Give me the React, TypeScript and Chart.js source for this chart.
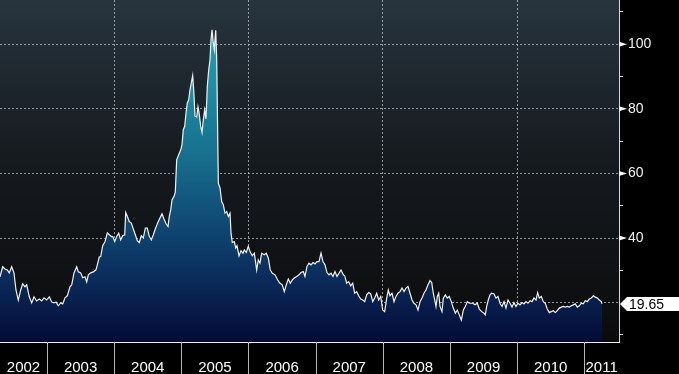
import React, { useEffect, useRef } from 'react';
import { Chart, registerables } from 'chart.js';

Chart.register(...registerables);

// decimal-year dates of each observation
const dates: number[] = [
  2002.300, 2002.340, 2002.374, 2002.409, 2002.438, 2002.474, 2002.508, 2002.538, 2002.572, 2002.608,
  2002.638, 2002.672, 2002.698, 2002.736, 2002.772, 2002.806, 2002.846, 2002.885, 2002.921, 2002.955,
  2002.995, 2003.034, 2003.070, 2003.104, 2003.134, 2003.168, 2003.204, 2003.234, 2003.268, 2003.302,
  2003.342, 2003.368, 2003.402, 2003.442, 2003.466, 2003.502, 2003.531, 2003.566, 2003.591, 2003.615,
  2003.651, 2003.689, 2003.729, 2003.749, 2003.779, 2003.799, 2003.829, 2003.863, 2003.898, 2003.927,
  2003.963, 2003.978, 2004.008, 2004.038, 2004.067, 2004.097, 2004.127, 2004.157, 2004.172, 2004.196,
  2004.225, 2004.255, 2004.285, 2004.315, 2004.344, 2004.374, 2004.404, 2004.434, 2004.464, 2004.493,
  2004.523, 2004.553, 2004.583, 2004.612, 2004.642, 2004.682, 2004.712, 2004.742, 2004.772, 2004.802,
  2004.821, 2004.842, 2004.861, 2004.891, 2004.910, 2004.931, 2004.961, 2004.991, 2005.010, 2005.029,
  2005.050, 2005.070, 2005.089, 2005.110, 2005.129, 2005.148, 2005.169, 2005.184, 2005.204, 2005.229,
  2005.248, 2005.268, 2005.288, 2005.308, 2005.327, 2005.348, 2005.367, 2005.387, 2005.408, 2005.427,
  2005.442, 2005.457, 2005.476, 2005.491, 2005.512, 2005.527, 2005.551, 2005.576, 2005.601, 2005.625,
  2005.650, 2005.676, 2005.700, 2005.725, 2005.740, 2005.759, 2005.789, 2005.810, 2005.829, 2005.859,
  2005.889, 2005.918, 2005.938, 2005.967, 2005.997, 2006.023, 2006.057, 2006.087, 2006.122, 2006.146,
  2006.171, 2006.197, 2006.235, 2006.265, 2006.295, 2006.325, 2006.355, 2006.395, 2006.435, 2006.469,
  2006.503, 2006.533, 2006.563, 2006.593, 2006.623, 2006.652, 2006.682, 2006.718, 2006.752, 2006.782,
  2006.816, 2006.841, 2006.871, 2006.901, 2006.931, 2006.961, 2006.990, 2007.020, 2007.050, 2007.080,
  2007.109, 2007.139, 2007.169, 2007.199, 2007.229, 2007.258, 2007.288, 2007.318, 2007.348, 2007.377,
  2007.412, 2007.433, 2007.462, 2007.492, 2007.522, 2007.552, 2007.581, 2007.611, 2007.641, 2007.671,
  2007.701, 2007.730, 2007.760, 2007.790, 2007.820, 2007.850, 2007.879, 2007.909, 2007.939, 2007.969,
  2007.998, 2008.028, 2008.058, 2008.082, 2008.107, 2008.137, 2008.167, 2008.196, 2008.226, 2008.256,
  2008.286, 2008.316, 2008.345, 2008.375, 2008.405, 2008.435, 2008.464, 2008.494, 2008.524, 2008.554,
  2008.584, 2008.613, 2008.643, 2008.673, 2008.703, 2008.728, 2008.752, 2008.773, 2008.792, 2008.812,
  2008.832, 2008.852, 2008.881, 2008.901, 2008.931, 2008.960, 2008.990, 2009.020, 2009.050, 2009.080,
  2009.109, 2009.139, 2009.169, 2009.199, 2009.228, 2009.258, 2009.288, 2009.339, 2009.373, 2009.407,
  2009.437, 2009.473, 2009.507, 2009.526, 2009.547, 2009.571, 2009.596, 2009.621, 2009.656, 2009.685,
  2009.715, 2009.745, 2009.775, 2009.805, 2009.834, 2009.864, 2009.894, 2009.924, 2009.953, 2009.983,
  2010.013, 2010.043, 2010.073, 2010.102, 2010.132, 2010.162, 2010.192, 2010.221, 2010.251, 2010.281,
  2010.306, 2010.330, 2010.360, 2010.390, 2010.419, 2010.449, 2010.479, 2010.509, 2010.539, 2010.568,
  2010.598, 2010.628, 2010.658, 2010.688, 2010.717, 2010.747, 2010.777, 2010.807, 2010.837, 2010.866,
  2010.896, 2010.926, 2010.956, 2010.985, 2011.015, 2011.045, 2011.075, 2011.105, 2011.134, 2011.164,
  2011.194, 2011.224, 2011.253, 2011.264,
];

const values: number[] = [
  28.0, 31.1, 30.4, 30.1, 29.2, 31.1, 29.2, 23.9, 20.8, 23.9,
  25.8, 24.9, 25.5, 21.8, 19.9, 21.8, 20.5, 21.1, 20.5, 21.5,
  20.8, 21.8, 20.2, 19.9, 20.2, 19.0, 19.9, 19.6, 21.5, 22.1,
  24.9, 25.5, 29.2, 31.1, 29.5, 29.2, 27.7, 28.0, 26.4, 28.6,
  29.2, 29.5, 30.1, 31.7, 34.2, 34.2, 37.6, 38.8, 41.6, 41.0,
  40.4, 40.5, 38.9, 40.5, 41.5, 39.4, 40.7, 41.0, 47.9, 46.7,
  45.1, 44.6, 42.8, 41.0, 39.2, 38.6, 40.7, 40.0, 43.1, 43.1,
  40.5, 39.4, 41.0, 42.8, 44.4, 46.2, 47.5, 45.9, 44.4, 43.6,
  46.7, 48.7, 51.8, 52.9, 54.1, 64.2, 65.8, 67.3, 68.9, 73.5,
  74.6, 78.7, 81.8, 82.8, 85.9, 88.0, 90.3, 85.9, 77.7, 77.5,
  80.6, 78.2, 74.6, 72.7, 76.6, 79.7, 76.9, 87.0, 92.1, 95.2,
  101.4, 104.5, 100.4, 98.3, 104.3, 95.0, 57.0, 55.5, 51.3, 50.3,
  47.7, 48.2, 46.7, 47.7, 41.5, 38.6, 38.9, 36.9, 37.6, 34.5,
  36.1, 35.3, 36.3, 35.5, 37.4, 35.8, 34.5, 35.3, 30.1, 33.2,
  32.2, 35.3, 34.8, 35.3, 33.8, 30.1, 29.1, 28.6, 27.0, 26.0,
  25.5, 23.4, 25.5, 27.3, 26.0, 27.0, 27.6, 28.1, 28.6, 29.3,
  29.6, 28.1, 31.2, 32.2, 31.7, 32.4, 32.0, 32.7, 32.7, 35.3,
  32.7, 31.7, 29.3, 28.6, 29.1, 28.1, 29.6, 28.1, 29.1, 30.1,
  28.6, 28.3, 26.0, 26.5, 25.2, 26.0, 22.9, 23.4, 22.1, 21.1,
  20.8, 20.3, 22.4, 23.1, 22.7, 20.3, 21.4, 22.9, 20.8, 21.9,
  17.7, 17.2, 21.4, 23.9, 22.1, 22.9, 20.3, 21.9, 22.9, 23.4,
  24.5, 23.4, 24.5, 25.0, 22.9, 20.8, 19.8, 19.3, 17.7, 20.3,
  21.4, 22.9, 23.9, 25.5, 26.8, 26.2, 22.9, 20.8, 18.8, 21.9,
  22.9, 18.8, 17.2, 21.4, 22.4, 21.4, 21.9, 20.3, 18.3, 16.7,
  17.7, 16.2, 14.6, 17.7, 18.8, 20.3, 19.8, 19.8, 19.3, 19.8,
  18.0, 17.2, 16.7, 16.2, 18.8, 20.8, 22.4, 22.9, 22.7, 21.4,
  21.9, 19.8, 18.8, 20.3, 18.3, 20.8, 19.8, 18.6, 20.0, 18.8,
  19.8, 19.3, 20.0, 19.6, 20.3, 19.8, 20.6, 20.3, 21.4, 20.8,
  23.1, 21.4, 21.9, 20.3, 19.8, 18.0, 16.9, 17.2, 17.5, 16.9,
  17.5, 18.3, 18.6, 18.8, 18.6, 18.8, 18.6, 19.0, 19.3, 19.6,
  18.6, 19.0, 19.8, 19.6, 20.6, 20.3, 21.1, 21.4, 22.1, 21.7,
  21.4, 20.8, 20.3, 19.65,
];

const yearLabels: string[] = ['2002', '2003', '2004', '2005', '2006', '2007', '2008', '2009', '2010', '2011'];
const gridYears: number[] = [2004, 2006, 2008, 2010];
const yTickValues: number[] = [10, 20, 30, 40, 50, 60, 70, 80, 90, 100, 110];
const yLabeledTicks: number[] = [40, 60, 80, 100];
const lastValueText = '19.65';

const X_MIN = 2002.3;
const X_MAX = 2011.517;
const Y_MIN = 7.8;
const Y_MAX = 113.7;

const FONT = "'Liberation Sans Narrow', 'Liberation Sans', Arial, sans-serif";

const decorPlugin = {
  id: 'decor',
  beforeDraw(chart: any) {
    const { ctx, chartArea: a, width, height } = chart;
    ctx.save();
    ctx.fillStyle = '#000000';
    ctx.fillRect(0, 0, width, height);
    const g = ctx.createLinearGradient(0, a.top, 0, a.bottom);
    g.addColorStop(0, '#27343e');
    g.addColorStop(0.45, '#161b20');
    g.addColorStop(1, '#0b0b0c');
    ctx.fillStyle = g;
    ctx.fillRect(a.left, a.top, a.right - a.left, a.bottom - a.top);
    ctx.restore();
  },
  afterDraw(chart: any) {
    const { ctx, chartArea: a, scales } = chart;
    const x = scales.x;
    const y = scales.y;
    ctx.save();
    // year separators below the axis
    ctx.strokeStyle = '#b8b8b8';
    ctx.lineWidth = 1;
    for (let i = 1; i < yearLabels.length; i++) {
      const px = Math.round(x.getPixelForValue(Number(yearLabels[i]))) + 0.5;
      ctx.beginPath();
      ctx.moveTo(px, a.bottom);
      ctx.lineTo(px, chart.height);
      ctx.stroke();
    }
    // year labels centred in each visible year span
    ctx.fillStyle = '#ffffff';
    ctx.font = `15px ${FONT}`;
    ctx.textAlign = 'center';
    ctx.textBaseline = 'alphabetic';
    for (let i = 0; i < yearLabels.length; i++) {
      const yr = Number(yearLabels[i]);
      const l = Math.max(x.getPixelForValue(yr), a.left);
      const r = Math.min(x.getPixelForValue(yr + 1), a.right);
      ctx.fillText(yearLabels[i], (l + r) / 2, chart.height - 2);
    }
    // pennant markers at labelled ticks
    ctx.fillStyle = '#ffffff';
    for (const v of yLabeledTicks) {
      const py = y.getPixelForValue(v);
      ctx.beginPath();
      ctx.moveTo(a.right, py - 2.5);
      ctx.lineTo(a.right + 8, py);
      ctx.lineTo(a.right, py + 2.5);
      ctx.closePath();
      ctx.fill();
    }
    // last value label
    const lv = values[values.length - 1];
    const py = Math.round(y.getPixelForValue(lv));
    ctx.fillStyle = '#ffffff';
    ctx.beginPath();
    ctx.moveTo(a.right + 1, py);
    ctx.lineTo(a.right + 8, py - 7);
    ctx.lineTo(chart.width, py - 7);
    ctx.lineTo(chart.width, py + 7);
    ctx.lineTo(a.right + 8, py + 7);
    ctx.closePath();
    ctx.fill();
    ctx.fillStyle = '#000000';
    ctx.font = `14px ${FONT}`;
    ctx.textAlign = 'left';
    ctx.textBaseline = 'middle';
    ctx.fillText(lastValueText, a.right + 10, py + 1);
    ctx.restore();
  },
};

export default function App() {
  const ref = useRef<HTMLCanvasElement>(null);

  useEffect(() => {
    document.body.style.margin = '0';
    document.body.style.background = '#000';
    const canvas = ref.current!;
    const points = dates.map((d, i) => ({ x: d, y: values[i] }));

    const chart = new Chart(canvas, {
      type: 'line',
      data: {
        datasets: [
          {
            data: points,
            borderColor: '#f2f2f2',
            borderWidth: 1.2,
            pointRadius: 0,
            tension: 0,
            fill: 'start',
            backgroundColor: (c: any) => {
              const { ctx, chartArea } = c.chart;
              if (!chartArea) return 'rgba(0,0,0,0)';
              const g = ctx.createLinearGradient(0, chartArea.top, 0, chartArea.bottom);
              g.addColorStop(0, '#2aa6ba');
              g.addColorStop(0.25, '#1d8ea3');
              g.addColorStop(0.45, '#17708e');
              g.addColorStop(0.65, '#0f4a74');
              g.addColorStop(0.82, '#0a2a5a');
              g.addColorStop(1, '#040a35');
              return g;
            },
          },
        ],
      },
      options: {
        responsive: false,
        maintainAspectRatio: false,
        devicePixelRatio: 1,
        animation: false,
        layout: { padding: 0 },
        plugins: {
          legend: { display: false },
          tooltip: { enabled: false },
        },
        scales: {
          x: {
            type: 'linear',
            position: 'bottom',
            min: X_MIN,
            max: X_MAX,
            z: 1,
            afterBuildTicks: (axis: any) => {
              axis.ticks = gridYears.map((v) => ({ value: v }));
            },
            afterFit: (axis: any) => {
              axis.height = 32;
              axis.paddingLeft = 0;
              axis.paddingRight = 0;
              axis.paddingTop = 0;
              axis.paddingBottom = 0;
            },
            ticks: { display: false },
            grid: {
              display: true,
              drawOnChartArea: true,
              drawTicks: false,
              color: 'rgba(190,195,200,0.75)',
              lineWidth: 1,
            },
            border: { display: true, color: '#eeeeee', width: 1, dash: [2, 2] },
          },
          y: {
            type: 'linear',
            position: 'right',
            min: Y_MIN,
            max: Y_MAX,
            z: 1,
            afterBuildTicks: (axis: any) => {
              axis.ticks = yTickValues.map((v) => ({ value: v }));
            },
            afterFit: (axis: any) => {
              axis.width = 60;
              axis.paddingTop = 0;
              axis.paddingBottom = 0;
              axis.paddingLeft = 0;
              axis.paddingRight = 0;
            },
            ticks: {
              autoSkip: false,
              color: '#f0f0f0',
              padding: 5,
              font: { family: FONT, size: 14 },
              callback: (v: any) => (yLabeledTicks.includes(Number(v)) ? String(v) : ''),
            },
            grid: {
              display: true,
              drawOnChartArea: true,
              drawTicks: true,
              tickLength: 4,
              lineWidth: 1,
              color: (c: any) =>
                c.tick && c.tick.value % 20 === 0 ? 'rgba(190,195,200,0.75)' : 'rgba(0,0,0,0)',
              tickColor: (c: any) =>
                c.tick && c.tick.value % 20 === 0 ? 'rgba(0,0,0,0)' : '#e0e0e0',
            },
            border: { display: true, color: '#d8d8d8', width: 1, dash: [2, 2] },
          },
        },
      },
      plugins: [decorPlugin],
    } as any);

    return () => chart.destroy();
  }, []);

  return (
    <div style={{ width: 679, height: 374, background: '#000' }}>
      <canvas ref={ref} width={679} height={374} style={{ display: 'block', width: 679, height: 374 }} />
    </div>
  );
}
